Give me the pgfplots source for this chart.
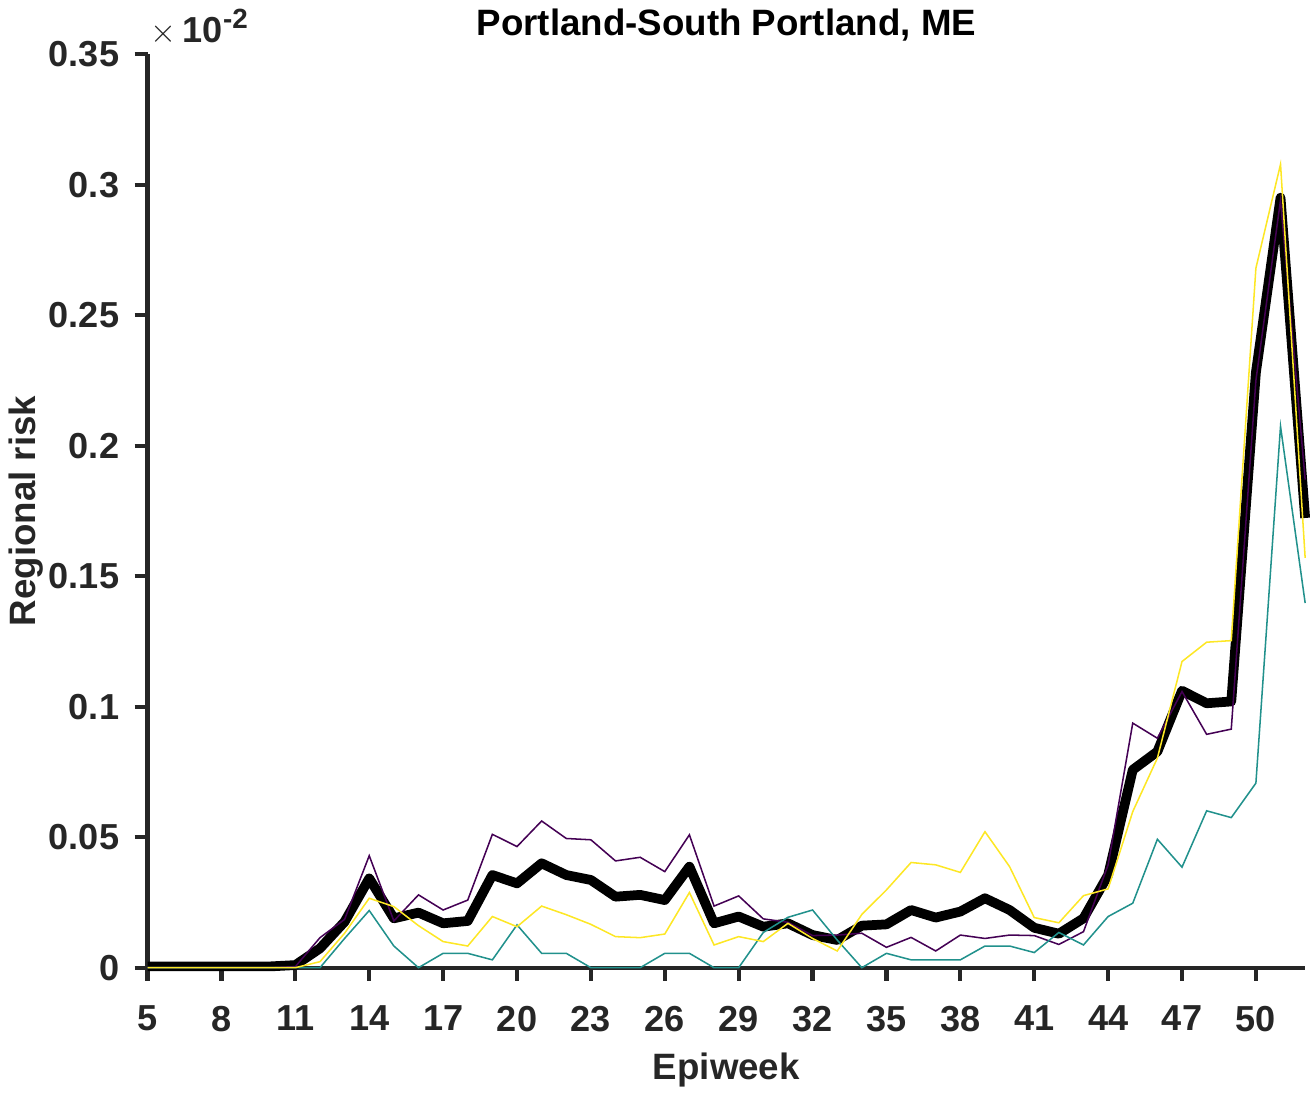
\documentclass[border=0pt]{standalone}
\usepackage{pgfplots}
\usepackage{pgfplotstable}
\pgfplotsset{compat=1.18}
\usepackage{fontspec}
\setmainfont{Liberation Sans}
\definecolor{vpurple}{HTML}{440154}
\definecolor{vteal}{HTML}{21918C}
\definecolor{vyellow}{HTML}{FDE725}
\definecolor{axgray}{HTML}{262626}
\pgfplotstableread{
w black purple teal yellow
5 0.0005 0 0 0
6 0.0005 0 0 0
7 0.0005 0 0 0
8 0.0005 0 0 0
9 0.0005 0 0 0
10 0.0005 0 0 0
11 0.0010 0.0004 0 0
12 0.0074 0.0115 0 0.0023
13 0.0176 0.0185 0.0112 0.0132
14 0.0342 0.0429 0.0219 0.0266
15 0.0189 0.0179 0.0083 0.0234
16 0.0211 0.0279 0 0.0161
17 0.0170 0.0221 0.0055 0.0100
18 0.0179 0.0259 0.0055 0.0083
19 0.0355 0.0511 0.0030 0.0196
20 0.0323 0.0464 0.0164 0.0157
21 0.0400 0.0562 0.0055 0.0236
22 0.0355 0.0495 0.0055 0.0203
23 0.0336 0.0490 0 0.0166
24 0.0272 0.0409 0 0.0119
25 0.0279 0.0423 0 0.0115
26 0.0259 0.0368 0.0055 0.0129
27 0.0387 0.0509 0.0055 0.0288
28 0.0170 0.0236 0 0.0087
29 0.0196 0.0275 0 0.0119
30 0.0157 0.0187 0.0135 0.0100
31 0.0170 0.0174 0.0193 0.0170
32 0.0125 0.0123 0.0221 0.0112
33 0.0106 0.0125 0.0106 0.0064
34 0.0161 0.0132 0 0.0204
35 0.0166 0.0078 0.0055 0.0298
36 0.0221 0.0116 0.0030 0.0403
37 0.0192 0.0064 0.0030 0.0394
38 0.0215 0.0125 0.0030 0.0365
39 0.0266 0.0112 0.0083 0.0521
40 0.0221 0.0125 0.0083 0.0387
41 0.0153 0.0123 0.0058 0.0192
42 0.0130 0.0089 0.0135 0.0172
43 0.0189 0.0138 0.0087 0.0276
44 0.0355 0.0394 0.0196 0.0302
45 0.0758 0.0937 0.0247 0.0598
46 0.0828 0.0879 0.0492 0.0803
47 0.1061 0.1058 0.0385 0.1173
48 0.1013 0.0894 0.0601 0.1247
49 0.1020 0.0914 0.0575 0.1253
50 0.2280 0.2250 0.0707 0.2680
51 0.2950 0.2940 0.2074 0.3078
52 0.1723 0.1870 0.1397 0.1570
}\risk
\begin{document}
\begin{tikzpicture}
\begin{axis}[
  scale only axis,
  width=416.5pt, height=328.7pt,
  xmin=5, xmax=52, ymin=0, ymax=0.35,
  clip=false,
  axis x line*=bottom, axis y line*=left,
  axis line style={axgray, line width=1.5pt},
  tick style={axgray, line width=1.5pt},
  tick align=outside,
  major tick length=4.7pt,
  xtick={5,8,...,50},
  ytick={0,0.05,0.1,0.15,0.2,0.25,0.3,0.35},
  yticklabels={0,0.05,0.1,0.15,0.2,0.25,0.3,0.35},
  /pgf/number format/assume math mode=true,
  ticklabel style={font=\fontsize{13}{15}\selectfont\bfseries, text=axgray},
  xticklabel style={yshift=-5.5pt},
  yticklabel style={xshift=-2pt},
  xlabel={Epiweek},
  ylabel={Regional risk},
  label style={font=\fontsize{13.2}{15}\selectfont\bfseries, text=axgray},
  title={Portland-South Portland, ME},
  title style={font=\fontsize{13.2}{15}\selectfont\bfseries, yshift=-5pt},
  xlabel style={yshift=-1pt},
  ylabel style={yshift=-5pt},
]
\addplot[black, line width=3.5pt, line join=round] table[x=w, y=black] {\risk};
\addplot[vpurple, line width=0.55pt] table[x=w, y=purple] {\risk};
\addplot[vteal, line width=0.55pt] table[x=w, y=teal] {\risk};
\addplot[vyellow, line width=0.55pt] table[x=w, y=yellow] {\risk};
\node[anchor=south west, inner sep=0pt, text=axgray] at (rel axis cs:0,1)
  [xshift=1pt, yshift=3pt] {\fontsize{13}{15}\selectfont$\times$\,\bfseries 10\raisebox{5pt}{\fontsize{10}{12}\selectfont -2}};
\end{axis}
\end{tikzpicture}
\end{document}
